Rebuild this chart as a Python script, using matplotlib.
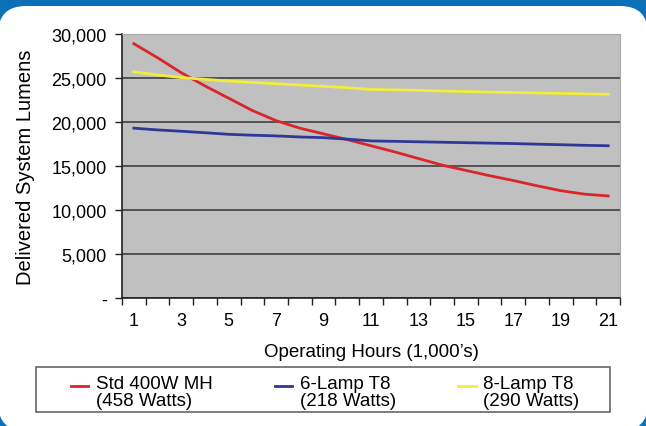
import matplotlib.pyplot as plt
from matplotlib.patches import FancyBboxPatch, Rectangle
from matplotlib.legend_handler import HandlerLine2D
from matplotlib.ticker import FuncFormatter

hours = list(range(1, 22))
std_400w_mh = [28900, 27300, 25600, 24100, 22700, 21300, 20150, 19300, 18650, 18000,
               17300, 16600, 15850, 15100, 14500, 13900, 13350, 12750, 12200, 11800, 11600]
lamp6_t8 = [19300, 19100, 18950, 18780, 18600, 18500, 18420, 18300, 18220, 18050,
            17850, 17800, 17750, 17700, 17650, 17600, 17550, 17480, 17420, 17350, 17300]
lamp8_t8 = [25700, 25350, 25050, 24850, 24650, 24500, 24350, 24200, 24050, 23900,
            23700, 23650, 23600, 23520, 23460, 23400, 23350, 23300, 23250, 23200, 23150]
labels = ["Std 400W MH\n(458 Watts)", "6-Lamp T8\n(218 Watts)", "8-Lamp T8\n(290 Watts)"]
y_ticks = [0, 5000, 10000, 15000, 20000, 25000, 30000]

plt.rcParams['font.family'] = ['Liberation Sans', 'DejaVu Sans']


class TopLineHandler(HandlerLine2D):
    # put the legend line next to the first text line, like Excel does
    def create_artists(self, *args, **kwargs):
        arts = super().create_artists(*args, **kwargs)
        for a in arts:
            a.set_ydata([y + 4 for y in a.get_ydata()])
        return arts


fig = plt.figure(figsize=(6.46, 4.27), dpi=100)
fig.patch.set_facecolor('#0b70b8')

# white rounded panel on the blue frame
panel = FancyBboxPatch((-0.02, -0.05), 6.50, 4.25,
                       boxstyle="round,pad=0,rounding_size=0.28",
                       transform=fig.dpi_scale_trans, facecolor='white',
                       edgecolor='none', zorder=-10)
fig.patches.append(panel)

ax = fig.add_axes([122 / 646, 1 - 299 / 427, 498 / 646, 264 / 427])
ax.set_facecolor('#c0c0c0')

ax.plot(hours, std_400w_mh, color='#d9262b', lw=2.0, label=labels[0])
ax.plot(hours, lamp6_t8, color='#2e3996', lw=2.0, label=labels[1])
ax.plot(hours, lamp8_t8, color='#f2ec3c', lw=2.0, label=labels[2])

ax.set_xlim(0.5, 21.5)
ax.set_ylim(0, 30000)
ax.set_yticks(y_ticks)
ax.yaxis.set_major_formatter(FuncFormatter(lambda v, p: "-" if v == 0 else f"{int(v):,}"))
ax.grid(axis='y', color='#4a4a4a', lw=1.3)
ax.set_axisbelow(True)

ax.set_xticks(hours[::2])
ax.set_xticks([h - 0.5 for h in hours] + [21.5], minor=True)
ax.tick_params(axis='x', which='major', length=0, pad=10, labelsize=13)
ax.tick_params(axis='x', which='minor', length=5, width=1, color='#222222', direction='out')
ax.tick_params(axis='y', length=5, width=1, color='#222222', labelsize=13, pad=6)

for s in ['top', 'right']:
    ax.spines[s].set_color('#a8a8a8')
for s in ['left', 'bottom']:
    ax.spines[s].set_color('#222222')
    ax.spines[s].set_linewidth(1.2)

ax.set_xlabel("Operating Hours (1,000\u2019s)", fontsize=13.5, labelpad=10)
ax.set_ylabel("Delivered System Lumens", fontsize=14.5, labelpad=12)

# legend box
fig.patches.append(Rectangle((36 / 646, 1 - 413 / 427), 574 / 646, 45 / 427,
                             transform=fig.transFigure, facecolor='white',
                             edgecolor='#666666', lw=1.2, zorder=1))
leg = fig.legend(loc='center', bbox_to_anchor=(325 / 646, 1 - 393 / 427),
                 ncol=3, frameon=False, fontsize=13.5,
                 handlelength=0.95, handletextpad=0.4, columnspacing=3.3,
                 labelspacing=0.1, handler_map={plt.Line2D: TopLineHandler()})
leg.set_zorder(2)
for t in leg.get_texts():
    t.set_linespacing(0.95)

fig.savefig("out.png", dpi=100, facecolor=fig.get_facecolor())
